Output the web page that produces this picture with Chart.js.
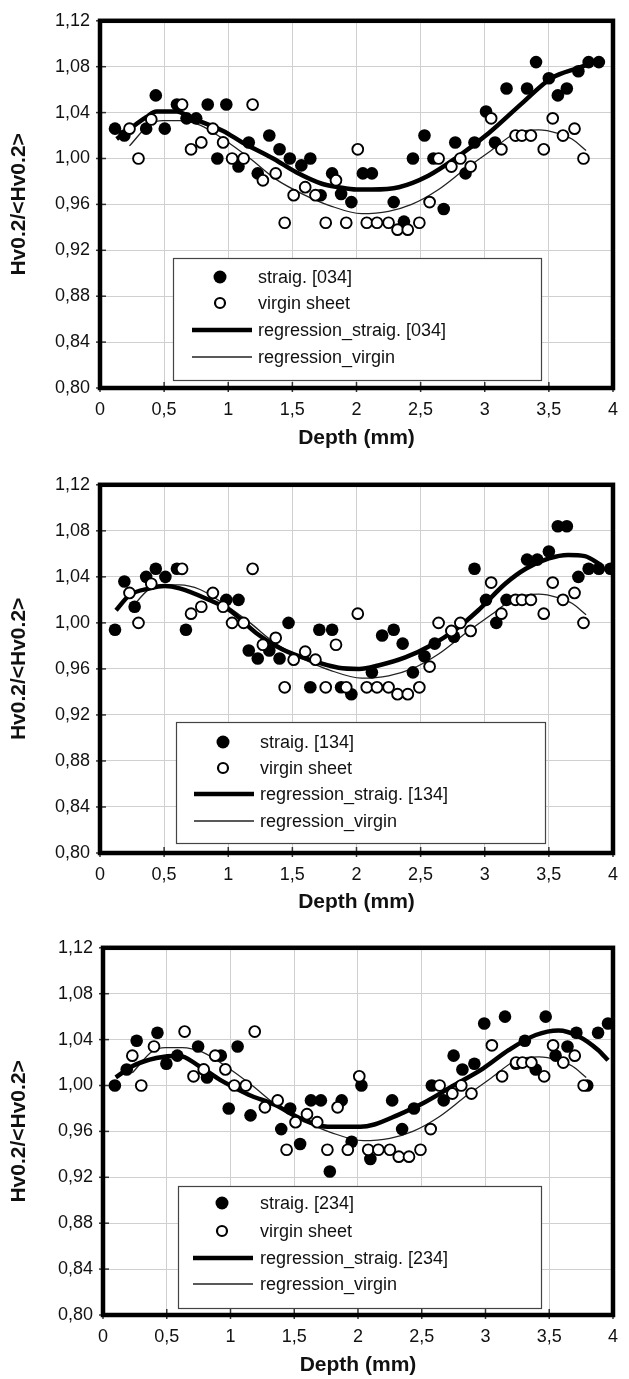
<!DOCTYPE html>
<html>
<head>
<meta charset="utf-8">
<script src="https://cdn.jsdelivr.net/npm/chart.js@4.4.1/dist/chart.umd.min.js"></script>
<style>
html,body{margin:0;padding:0;background:#fff;}
canvas{position:absolute;left:0;display:block;}
</style>
</head>
<body>
<canvas id="c1" width="629" height="464" style="top:0px"></canvas>
<canvas id="c2" width="629" height="463" style="top:464px"></canvas>
<canvas id="c3" width="629" height="452" style="top:927px"></canvas>
<script>
// ---------- tick labels ----------
const xTickLabels = ['0','0,5','1','1,5','2','2,5','3','3,5','4'];
const yTickLabels = ['0,80','0,84','0,88','0,92','0,96','1,00','1,04','1,08','1,12'];

// ---------- virgin sheet (same in all panels) ----------
const virginDepth = [0.23,0.30,0.40,0.64,0.71,0.79,0.88,0.96,1.03,1.12,1.19,1.27,1.37,1.44,1.51,1.60,1.68,1.76,1.84,1.92,2.01,2.08,2.16,2.25,2.32,2.40,2.49,2.57,2.64,2.74,2.81,2.89,3.05,3.13,3.24,3.29,3.36,3.46,3.53,3.61,3.70,3.77];
const virginHv    = [1.026,1.000,1.034,1.047,1.008,1.014,1.026,1.014,1.000,1.000,1.047,0.981,0.987,0.944,0.968,0.975,0.968,0.944,0.981,0.944,1.008,0.944,0.944,0.944,0.938,0.938,0.944,0.962,1.000,0.993,1.000,0.993,1.035,1.008,1.020,1.020,1.020,1.008,1.035,1.020,1.026,1.000];
const regVirginDepth = [0.23,0.39,0.49,0.62,0.78,0.96,1.17,1.37,1.58,1.79,2.04,2.25,2.43,2.64,2.85,3.05,3.24,3.42,3.57,3.68,3.79];
const regVirginHv    = [1.011,1.030,1.033,1.033,1.029,1.017,1.000,0.982,0.969,0.959,0.952,0.954,0.960,0.973,0.991,1.007,1.022,1.025,1.022,1.017,1.007];

// ---------- straig. [034] ----------
const straig034Depth = [0.117,0.19,0.36,0.435,0.505,0.60,0.675,0.75,0.84,0.915,0.985,1.08,1.16,1.23,1.32,1.40,1.48,1.57,1.64,1.72,1.81,1.88,1.96,2.05,2.12,2.29,2.37,2.44,2.53,2.60,2.68,2.77,2.85,2.92,3.01,3.08,3.17,3.33,3.40,3.50,3.57,3.64,3.73,3.81,3.89];
const straig034Hv    = [1.026,1.020,1.026,1.055,1.026,1.047,1.035,1.035,1.047,1.000,1.047,0.993,1.014,0.987,1.020,1.008,1.000,0.994,1.000,0.968,0.987,0.969,0.962,0.987,0.987,0.962,0.945,1.000,1.020,1.000,0.956,1.014,0.987,1.014,1.041,1.014,1.061,1.061,1.084,1.070,1.055,1.061,1.076,1.084,1.084];
const regStraig034Depth = [0.13,0.36,0.44,0.60,0.70,0.96,1.11,1.35,1.53,1.73,1.86,2.00,2.12,2.33,2.56,2.77,3.03,3.29,3.52,3.73,3.83];
const regStraig034Hv    = [1.017,1.036,1.041,1.041,1.036,1.024,1.014,1.000,0.988,0.978,0.975,0.973,0.973,0.975,0.985,1.000,1.022,1.048,1.070,1.079,1.083];

// ---------- straig. [134] ----------
const straig134Depth = [0.117,0.19,0.27,0.36,0.435,0.51,0.60,0.67,0.985,1.08,1.16,1.23,1.32,1.40,1.47,1.64,1.71,1.81,1.88,1.96,2.12,2.20,2.29,2.36,2.44,2.53,2.61,2.76,2.92,3.01,3.09,3.17,3.33,3.41,3.50,3.57,3.64,3.73,3.81,3.89,3.98];
const straig134Hv    = [0.994,1.036,1.014,1.040,1.047,1.040,1.047,0.994,1.020,1.020,0.976,0.969,0.976,0.969,1.000,0.944,0.994,0.994,0.944,0.938,0.957,0.989,0.994,0.982,0.957,0.971,0.982,0.988,1.047,1.020,1.000,1.020,1.055,1.055,1.062,1.084,1.084,1.040,1.047,1.047,1.047];
const regStraig134Depth = [0.125,0.23,0.39,0.505,0.62,0.83,1.01,1.22,1.42,1.63,1.86,2.02,2.17,2.38,2.59,2.77,2.95,3.16,3.32,3.50,3.65,3.78,3.91];
const regStraig134Hv    = [1.011,1.024,1.030,1.032,1.030,1.021,1.011,0.991,0.977,0.968,0.961,0.960,0.963,0.970,0.981,0.994,1.011,1.034,1.047,1.056,1.059,1.058,1.050];

// ---------- straig. [234] ----------
const straig234Depth = [0.093,0.186,0.264,0.427,0.497,0.583,0.746,0.816,0.924,0.986,1.056,1.157,1.398,1.468,1.546,1.631,1.709,1.779,1.872,1.950,2.027,2.097,2.268,2.346,2.439,2.579,2.672,2.750,2.819,2.913,2.990,3.153,3.239,3.309,3.394,3.472,3.550,3.643,3.713,3.798,3.883,3.961];
const straig234Hv    = [1.000,1.014,1.039,1.046,1.019,1.026,1.034,1.007,1.026,0.980,1.034,0.974,0.962,0.980,0.949,0.987,0.987,0.925,0.987,0.951,1.000,0.936,0.987,0.962,0.980,1.000,0.987,1.026,1.014,1.019,1.054,1.060,1.019,1.039,1.014,1.060,1.026,1.034,1.046,1.000,1.046,1.054];
const regStraig234Depth = [0.10,0.233,0.419,0.598,0.753,0.932,1.142,1.351,1.553,1.763,1.918,2.019,2.128,2.307,2.517,2.750,2.983,3.184,3.394,3.573,3.728,3.883,3.961];
const regStraig234Hv    = [1.007,1.017,1.024,1.026,1.017,1.004,0.992,0.983,0.971,0.964,0.964,0.964,0.966,0.974,0.985,1.000,1.015,1.031,1.044,1.048,1.043,1.031,1.022];

const FONT = "'Liberation Sans', Arial, Helvetica, sans-serif";

function pts(xs, ys) { return xs.map((x, i) => ({ x: x, y: ys[i] })); }

const frameLegendPlugin = {
  id: 'frameLegend',
  afterDatasetsDraw(chart, args, opts) {
    const ctx = chart.ctx, a = chart.chartArea, xs = chart.scales.x, ys = chart.scales.y;
    ctx.save();
    // small tick marks across the frame
    ctx.strokeStyle = '#333';
    ctx.lineWidth = 1.5;
    ys.ticks.forEach((t, i) => {
      const py = ys.getPixelForTick(i);
      ctx.beginPath(); ctx.moveTo(a.left - 4, py); ctx.lineTo(a.left + 6, py); ctx.stroke();
    });
    xs.ticks.forEach((t, i) => {
      const px = xs.getPixelForTick(i);
      ctx.beginPath(); ctx.moveTo(px, a.bottom + 4); ctx.lineTo(px, a.bottom - 6); ctx.stroke();
    });
    // thick frame
    ctx.strokeStyle = '#000';
    ctx.lineWidth = 4.5;
    ctx.strokeRect(a.left, a.top, a.right - a.left, a.bottom - a.top);
    // legend box
    const b = opts.box;
    ctx.fillStyle = '#fff';
    ctx.fillRect(b.l, b.t, b.r - b.l, b.b - b.t);
    ctx.strokeStyle = '#444';
    ctx.lineWidth = 1.2;
    ctx.strokeRect(b.l + 0.5, b.t + 0.5, b.r - b.l, b.b - b.t);
    const ds = chart.data.datasets;
    const order = [1, 0, 2, 3];
    ctx.font = '18px ' + FONT;
    ctx.textBaseline = 'middle';
    ctx.textAlign = 'left';
    order.forEach((di, k) => {
      const d = ds[di];
      const ry = b.rows[k];
      if (di === 1) {
        ctx.fillStyle = '#000';
        ctx.beginPath(); ctx.arc(b.mx, ry, 6.5, 0, Math.PI * 2); ctx.fill();
      } else if (di === 0) {
        ctx.fillStyle = '#fff'; ctx.strokeStyle = '#000'; ctx.lineWidth = 2.2;
        ctx.beginPath(); ctx.arc(b.mx, ry, 5, 0, Math.PI * 2); ctx.fill(); ctx.stroke();
      } else {
        ctx.strokeStyle = d.borderColor; ctx.lineWidth = d.borderWidth;
        ctx.beginPath(); ctx.moveTo(b.lx0, ry); ctx.lineTo(b.lx1, ry); ctx.stroke();
      }
      ctx.fillStyle = '#111';
      ctx.fillText(d.label, b.tx, ry + 1);
    });
    ctx.restore();
  }
};

function makeChart(id, cfg) {
  const canvas = document.getElementById(id);
  const W = canvas.width, H = canvas.height, g = cfg.geom;
  return new Chart(canvas, {
    type: 'scatter',
    data: {
      datasets: [
        { label: 'virgin sheet', data: pts(virginDepth, virginHv), showLine: false,
          pointRadius: 5.4, pointBorderWidth: 1.9, pointBackgroundColor: '#fff', pointBorderColor: '#000' },
        { label: cfg.label, data: pts(cfg.sd, cfg.sv), showLine: false,
          pointRadius: 6.3, pointBorderWidth: 0, pointBackgroundColor: '#000', pointBorderColor: '#000' },
        { label: 'regression_' + cfg.label, data: pts(cfg.rd, cfg.rv), showLine: true,
          pointRadius: 0, borderColor: '#000', borderWidth: 4.5, tension: 0.4, cubicInterpolationMode: 'monotone', fill: false },
        { label: 'regression_virgin', data: pts(regVirginDepth, regVirginHv), showLine: true,
          pointRadius: 0, borderColor: '#222', borderWidth: 1.3, tension: 0.4, cubicInterpolationMode: 'monotone', fill: false }
      ]
    },
    plugins: [frameLegendPlugin],
    options: {
      responsive: false,
      animation: false,
      events: [],
      layout: { padding: { top: g.top, right: W - g.right, left: 0, bottom: 0 } },
      plugins: {
        legend: { display: false },
        tooltip: { enabled: false },
        frameLegend: { box: cfg.box }
      },
      scales: {
        x: {
          type: 'linear', min: 0, max: 4,
          ticks: { stepSize: 0.5, autoSkip: false, maxRotation: 0, padding: 11, color: '#111',
                   font: { family: FONT, size: 18 },
                   callback: (v) => xTickLabels[Math.round(v / 0.5)] },
          grid: { color: '#d0d0d0', lineWidth: 1, drawTicks: false },
          border: { display: false },
          title: { display: true, text: 'Depth (mm)', color: '#111',
                   font: { family: FONT, size: 21, weight: 'bold' },
                   padding: { top: 0, bottom: Math.max(0, H - g.xTitle - 12.6) } },
          afterFit: (s) => { s.height = H - g.bottom; }
        },
        y: {
          type: 'linear', min: 0.8, max: 1.12,
          ticks: { stepSize: 0.04, autoSkip: false, padding: 10, color: '#111',
                   font: { family: FONT, size: 18 },
                   callback: (v) => yTickLabels[Math.round((v - 0.8) / 0.04)] },
          grid: { color: '#d0d0d0', lineWidth: 1, drawTicks: false },
          border: { display: false },
          title: { display: true, text: 'Hv0.2/<Hv0.2>', color: '#111',
                   font: { family: FONT, size: 21, weight: 'bold' },
                   padding: { top: 7, bottom: 0 } },
          afterFit: (s) => { s.width = g.left; }
        }
      }
    }
  });
}

makeChart('c1', {
  label: 'straig. [034]', sd: straig034Depth, sv: straig034Hv, rd: regStraig034Depth, rv: regStraig034Hv,
  geom: { left: 100, right: 616, top: 17, bottom: 388, xTitle: 438 },
  box: { l: 173, t: 258, r: 541, b: 380, rows: [277, 303, 330, 357], mx: 220, lx0: 192, lx1: 252, tx: 258 }
});
makeChart('c2', {
  label: 'straig. [134]', sd: straig134Depth, sv: straig134Hv, rd: regStraig134Depth, rv: regStraig134Hv,
  geom: { left: 100, right: 616, top: 17, bottom: 389, xTitle: 438 },
  box: { l: 176, t: 258, r: 545, b: 379, rows: [278, 304, 330, 357], mx: 223, lx0: 194, lx1: 254, tx: 260 }
});
makeChart('c3', {
  label: 'straig. [234]', sd: straig234Depth, sv: straig234Hv, rd: regStraig234Depth, rv: regStraig234Hv,
  geom: { left: 103, right: 618, top: 18, bottom: 388, xTitle: 438 },
  box: { l: 178, t: 259, r: 541, b: 381, rows: [276, 304, 331, 357], mx: 222, lx0: 193, lx1: 253, tx: 260 }
});
</script>
</body>
</html>
